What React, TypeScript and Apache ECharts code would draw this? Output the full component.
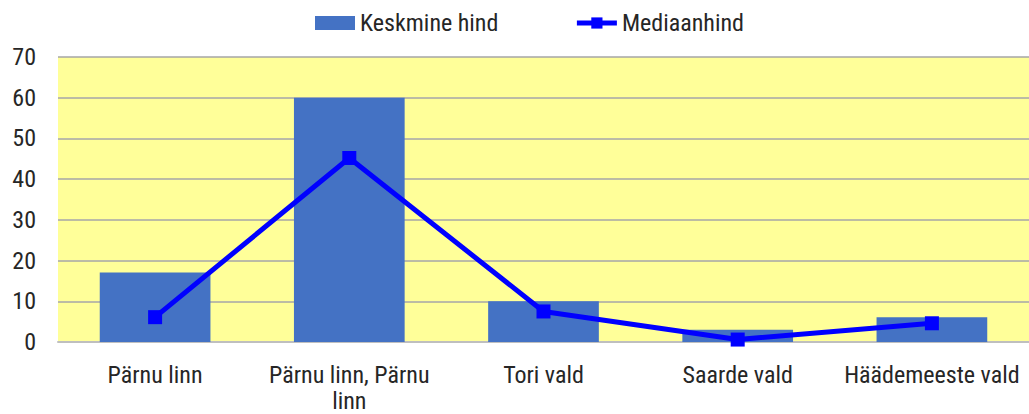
import React, { useEffect, useRef } from "react";
import * as echarts from "echarts";

const categories = ["Pärnu linn", "Pärnu linn, Pärnu linn", "Tori vald", "Saarde vald", "Häädemeeste vald"];
const keskmineHind = [17.1, 60, 10, 3, 6.1];
const mediaanhind = [6.1, 45.2, 7.5, 0.6, 4.6];
const yTicks = { min: 0, max: 70, interval: 10 };

const FONT = "'Roboto Condensed', 'Liberation Sans Narrow', 'Roboto', sans-serif";
const FS = 24;

export default function App() {
  const ref = useRef<HTMLDivElement>(null);
  useEffect(() => {
    if (!ref.current) return;
    const chart = echarts.init(ref.current, undefined, { renderer: "svg" });
    chart.setOption({
      animation: false,
      textStyle: { fontFamily: FONT },
      legend: {
        top: 6,
        left: 310,
        itemWidth: 40,
        itemHeight: 14,
        itemGap: 76,
        textStyle: { fontSize: FS, color: "#262626", fontFamily: FONT },
        data: [
          { name: "Keskmine hind", icon: "rect" },
          { name: "Mediaanhind", lineStyle: { width: 5, color: "#0000ff" } },
        ],
      },
      grid: { left: 58, right: -2, top: 57, bottom: 68, containLabel: false },
      xAxis: {
        type: "category",
        data: categories,
        axisTick: { show: false },
        axisLine: { lineStyle: { color: "#bfbfbf", width: 2 } },
        axisLabel: {
          fontSize: FS,
          color: "#262626",
          margin: 20,
          lineHeight: 26,
          fontFamily: FONT,
          interval: 0,
          formatter: (v: string) => (v === "Pärnu linn, Pärnu linn" ? "Pärnu linn, Pärnu\nlinn" : v),
        },
      },
      yAxis: {
        type: "value",
        min: yTicks.min,
        max: yTicks.max,
        interval: yTicks.interval,
        axisLine: { show: false },
        axisTick: { show: false },
        axisLabel: { fontSize: FS, color: "#262626", margin: 22, fontFamily: FONT },
        splitLine: { lineStyle: { color: "#a6a6a6", width: 1.5 } },
        splitArea: { show: true, areaStyle: { color: ["#ffff99", "#ffff99"] } },
      },
      series: [
        {
          name: "Keskmine hind",
          type: "bar",
          data: keskmineHind,
          barCategoryGap: "43%",
          itemStyle: { color: "#4472c4" },
        },
        {
          name: "Mediaanhind",
          type: "line",
          data: mediaanhind,
          symbol: "rect",
          symbolSize: 14,
          lineStyle: { color: "#0000ff", width: 5 },
          itemStyle: { color: "#0000ff" },
        },
      ],
    });
    return () => chart.dispose();
  }, []);
  return <div ref={ref} style={{ width: 1029, height: 414, position: "absolute", left: 0, top: 0 }} />;
}
